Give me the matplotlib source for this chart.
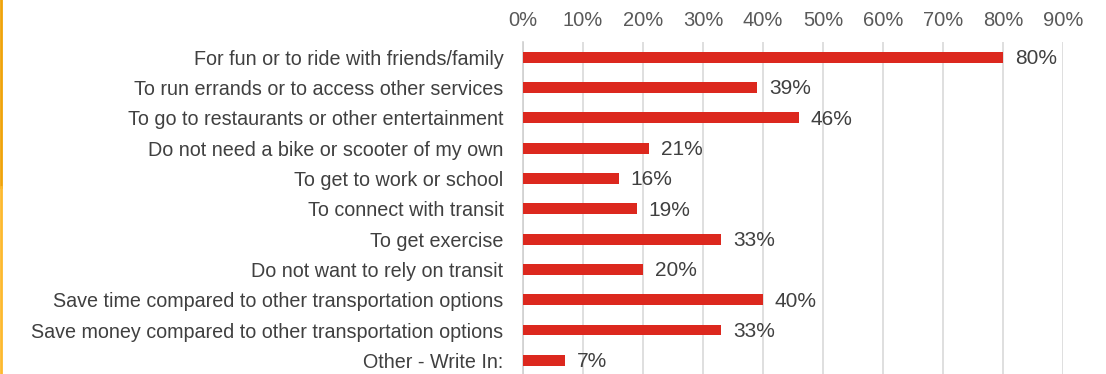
import matplotlib
matplotlib.use("Agg")
import matplotlib.pyplot as plt
from matplotlib.lines import Line2D
from matplotlib.ticker import FuncFormatter

categories = [
    "For fun or to ride with friends/family",
    "To run errands or to access other services",
    "To go to restaurants or other entertainment",
    "Do not need a bike or scooter of my own",
    "To get to work or school",
    "To connect with transit",
    "To get exercise",
    "Do not want to rely on transit",
    "Save time compared to other transportation options",
    "Save money compared to other transportation options",
    "Other - Write In:",
]
values = [80, 39, 46, 21, 16, 19, 33, 20, 40, 33, 7]
xticks = [0, 10, 20, 30, 40, 50, 60, 70, 80, 90]

plt.rcParams['font.family'] = ['Liberation Sans', 'DejaVu Sans']

W, H = 1106, 374
fig = plt.figure(figsize=(W / 100, H / 100), dpi=100)
ax = fig.add_axes([523 / W, 0, (1063 - 523) / W, (H - 42) / H])

y = list(range(len(categories)))
ax.barh(y, values, height=0.36, color="#DC281E", zorder=3)
ax.set_ylim(10.45, -0.5)
ax.set_xlim(0, 90)
ax.set_xticks(xticks)
ax.xaxis.set_major_formatter(FuncFormatter(lambda v, p: f"{int(v)}%"))
ax.xaxis.tick_top()
ax.tick_params(axis='x', length=0, pad=9, labelsize=14.5, labelcolor="#595959")
ax.set_yticks(y)
ax.set_yticklabels(categories)
ax.tick_params(axis='y', length=0, pad=14, labelsize=14.2, labelcolor="#404040")
ax.grid(axis='x', color="#D9D9D9", linewidth=1.2, zorder=0)
for s in ["top", "right", "bottom"]:
    ax.spines[s].set_visible(False)
ax.spines["left"].set_color("#D0D0D0")
ax.spines["left"].set_linewidth(1.2)

for yi, v in zip(y, values):
    ax.annotate(f"{v}%", (v, yi), xytext=(8.5, -1), textcoords="offset points",
                va="center", ha="left", fontsize=15, color="#404040", zorder=4)

fig.add_artist(Line2D([1 / W, 1 / W], [1, 1 - 187 / H], transform=fig.transFigure,
                      color="#F0A30A", linewidth=2))
fig.add_artist(Line2D([1 / W, 1 / W], [1 - 187 / H, 0], transform=fig.transFigure,
                      color="#FDB92E", linewidth=2))

fig.savefig("out.png", dpi=100, facecolor="white")
